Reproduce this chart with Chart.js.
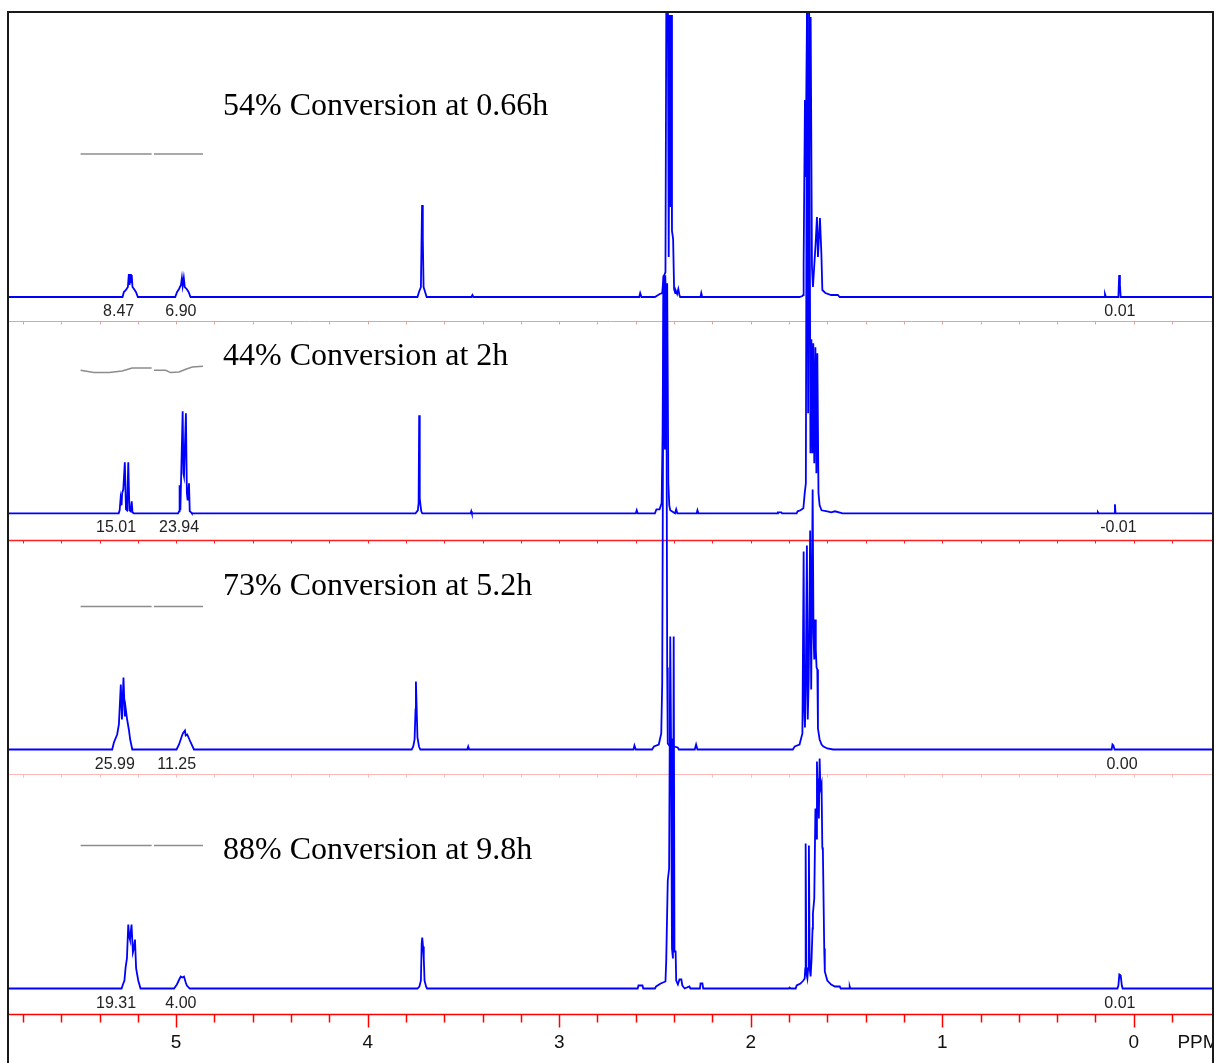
<!DOCTYPE html>
<html>
<head>
<meta charset="utf-8">
<script src="https://cdn.jsdelivr.net/npm/chart.js@4.4.1/dist/chart.umd.min.js"></script>
<style>
  html, body { margin: 0; padding: 0; background: #fff; }
  #wrap { width: 1215px; height: 1063px; position: relative; }
</style>
</head>
<body>
<div id="wrap"><canvas id="nmrChart"></canvas></div>
<script>
// spectra: chemical shift (ppm) and peak height above each baseline
const ppm54 = [6.0, 5.28, 5.273, 5.262, 5.252, 5.247, 5.243, 5.240, 5.236, 5.232, 5.228, 5.220, 5.210, 5.200,
  5.005, 4.995, 4.985, 4.975, 4.970, 4.966, 4.960, 4.955, 4.945, 4.935, 4.925,
  3.740, 3.732, 3.722, 3.716, 3.712, 3.708, 3.700, 3.692,
  3.458, 3.453, 3.448,
  2.582, 2.577, 2.570,
  2.500, 2.475, 2.462, 2.455, 2.445, 2.440, 2.433, 2.428, 2.424, 2.420, 2.416, 2.411, 2.405, 2.400, 2.394, 2.390, 2.384, 2.378, 2.372, 2.368,
  2.262, 2.258, 2.253,
  1.745, 1.730, 1.726, 1.7235, 1.7167, 1.7125, 1.7094, 1.7042, 1.698, 1.6869, 1.680, 1.6749, 1.6608, 1.654, 1.6488, 1.6383, 1.631, 1.6258, 1.610, 1.580, 1.545, 1.535,
  0.155, 0.150, 0.145,
  0.080, 0.076, 0.072, 0.068,
  -0.5];
const int54 = [0, 0, 5, 7, 10, 23, 12, 23, 14, 22, 10, 8, 5, 0,
  0, 5, 8, 12, 19, 11, 19, 10, 8, 5, 0,
  0, 5, 10, 92, 58, 10, 5, 0,
  0, 2, 0,
  0, 4, 0,
  0, 3, 4, 20, 25, 330, 330, 40, 282, 90, 282, 66, 58, 8, 4, 6, 3, 8, 2, 0,
  0, 4, 0,
  0, 1, 2, 33, 197, 120, 200, 330, 60, 280, 30, 10, 54, 80, 40, 79, 44, 7, 4, 2, 2, 0,
  0, 3, 0,
  0, 22, 12, 0,
  0];

const ppm44 = [6.0, 5.300, 5.295, 5.290, 5.285, 5.282, 5.276, 5.268, 5.262, 5.256, 5.250, 5.244, 5.238, 5.232, 5.228, 5.222,
  4.990, 4.985, 4.982, 4.978, 4.966, 4.962, 4.959, 4.949, 4.944, 4.940, 4.933, 4.929, 4.922, 4.918,
  3.750, 3.738, 3.734, 3.731, 3.728, 3.724, 3.720, 3.715,
  3.462, 3.459, 3.456,
  2.600, 2.595, 2.590,
  2.500, 2.492, 2.476, 2.465, 2.460, 2.455, 2.450, 2.446, 2.441, 2.436, 2.430, 2.425, 2.420, 2.395, 2.389, 2.383,
  2.282, 2.278, 2.273,
  1.860, 1.858, 1.840, 1.836, 1.760, 1.755, 1.740, 1.725, 1.718, 1.712, 1.706, 1.700, 1.695, 1.688, 1.683, 1.678, 1.673, 1.668, 1.662, 1.657, 1.652, 1.646, 1.640, 1.630, 1.600, 1.580, 1.560, 1.520,
  0.190, 0.187, 0.184,
  0.101, 0.098, 0.095,
  -0.5];
const int44 = [0, 0, 3, 15, 8, 20, 24, 51, 4, 3, 51, 3, 2, 12, 1, 0,
  0, 2, 28, 3, 102, 40, 37, 100, 20, 13, 30, 2, 1, 0,
  0, 3, 10, 98, 15, 8, 2, 0,
  0, 2, 0,
  0, 3, 0,
  0, 4, 4, 10, 80, 238, 150, 238, 200, 230, 30, 8, 3, 0, 4, 0,
  0, 3, 0,
  0, 1, 1, 0, 0, 2, 3, 5, 20, 30, 520, 100, 520, 60, 174, 60, 170, 50, 166, 40, 160, 20, 8, 3, 2, 1, 2, 0,
  0, 1, 0,
  0, 9, 0,
  0];

const ppm73 = [6.0, 5.334, 5.325, 5.308, 5.299, 5.289, 5.283, 5.275, 5.268, 5.264, 5.256, 5.247, 5.240, 5.229,
  4.998, 4.985, 4.971, 4.965, 4.954, 4.950, 4.942, 4.924, 4.907,
  3.770, 3.762, 3.755, 3.750, 3.748, 3.744, 3.740, 3.732, 3.725,
  3.480, 3.475, 3.470,
  2.612, 2.607, 2.600,
  2.515, 2.505, 2.480, 2.467, 2.462, 2.455, 2.448, 2.441, 2.436, 2.433, 2.425, 2.415, 2.400, 2.381, 2.375,
  2.292, 2.285, 2.278,
  1.780, 1.770, 1.745, 1.730, 1.7235, 1.720, 1.7167, 1.7125, 1.7065, 1.702, 1.697, 1.6895, 1.684, 1.6765, 1.672, 1.668, 1.664, 1.660, 1.656, 1.652, 1.6488, 1.640, 1.630, 1.620, 1.600, 1.570,
  0.115, 0.111, 0.106, 0.100,
  -0.5];
const int73 = [0, 0, 7, 15, 25, 65, 30, 72, 33, 42, 30, 20, 10, 0,
  0, 5, 13, 16, 19, 14, 15, 7, 0,
  0, 3, 10, 40, 68, 40, 12, 3, 0,
  0, 3, 0,
  0, 4, 0,
  0, 3, 5, 16, 66, 460, 300, 460, 82, 6, 4, 5, 3, 2, 0,
  0, 5, 0,
  0, 3, 5, 16, 198, 40, 22, 60, 204, 30, 70, 219, 60, 260, 116, 90, 130, 100, 82, 80, 21, 10, 5, 3, 1, 0,
  0, 5, 4, 0,
  0];

const ppm88 = [6.0, 5.285, 5.278, 5.270, 5.264, 5.257, 5.250, 5.245, 5.241, 5.233, 5.226, 5.221, 5.215, 5.209, 5.198, 5.186,
  5.011, 4.996, 4.984, 4.976, 4.968, 4.959, 4.950, 4.944, 4.929,
  3.740, 3.730, 3.722, 3.718, 3.715, 3.711, 3.707, 3.703, 3.695, 3.690,
  2.590, 2.586, 2.565, 2.561,
  2.500, 2.494, 2.470, 2.445, 2.441, 2.433, 2.426, 2.420, 2.416, 2.411, 2.406, 2.402, 2.398, 2.392, 2.389, 2.380, 2.372, 2.362, 2.357, 2.345, 2.320, 2.315,
  2.265, 2.262, 2.252, 2.248,
  1.800, 1.797, 1.790, 1.765, 1.760, 1.740, 1.725, 1.718, 1.715, 1.713, 1.709, 1.704, 1.700, 1.696, 1.692, 1.687, 1.682, 1.677, 1.675, 1.668, 1.662, 1.657, 1.654, 1.650, 1.647, 1.644, 1.640, 1.636, 1.630, 1.626, 1.623, 1.616, 1.613, 1.600, 1.580, 1.560, 1.535, 1.530,
  1.486, 1.483, 1.480,
  0.085, 0.080, 0.075, 0.068, 0.062, 0.058,
  -0.5];
const int88 = [0, 0, 4, 8, 21, 30, 64, 52, 49, 64, 36, 40, 49, 20, 8, 0,
  0, 4, 9, 12, 11, 12, 6, 3, 0,
  0, 2, 8, 45, 51, 42, 30, 8, 2, 0,
  0, 3, 3, 0,
  0, 2, 5, 7, 28, 108, 120, 352, 250, 40, 30, 352, 37, 37, 8, 4, 9, 9, 3, 0, 2, 0,
  0, 5, 5, 0,
  0, 1, 0, 0, 3, 5, 8, 10, 20, 145, 15, 10, 20, 143, 20, 12, 30, 60, 75, 90, 180, 150, 227, 190, 210, 170, 230, 200, 205, 141, 138, 40, 17, 8, 4, 2, 2, 0,
  0, 2, 0,
  0, 3, 14, 13, 3, 0,
  0];

// integral traces (two regions per spectrum), small drift around their level
const intgPpmA = [5.499, 5.430, 5.350, 5.282, 5.230, 5.128];
const intgPpmB = [5.116, 5.055, 5.029, 4.985, 4.950, 4.916, 4.860];
const intgA54 = [0, 0, 0, 0, 0, 0];
const intgB54 = [0, 0, 0, 0, 0, 0, 0];
const intgA44 = [0, -2.3, -2.3, -0.7, 2.3, 2.3];
const intgB44 = [0, 0, -2.3, -1.7, 1, 3.3, 4];
const intgA73 = [0, 0, 0, 0, 0, 0];
const intgB73 = [0, 0, 0, 0, 0, 0, 0];
const intgA88 = [0, 0, 0, 0, 0, 0];
const intgB88 = [0, 0, 0, 0, 0, 0, 0];

// integral values and where they sit
const labels54 = ['8.47', '6.90', '0.01'];
const labels44 = ['15.01', '23.94', '-0.01'];
const labels73 = ['25.99', '11.25', '0.00'];
const labels88 = ['19.31', '4.00', '0.01'];
const labelPpm54 = [5.300, 4.975, 0.072];
const labelPpm44 = [5.314, 4.985, 0.080];
const labelPpm73 = [5.320, 4.997, 0.061];
const labelPpm88 = [5.314, 4.975, 0.072];

const titles = ['54% Conversion at 0.66h', '44% Conversion at 2h', '73% Conversion at 5.2h', '88% Conversion at 9.8h'];
const majorTicks = [5, 4, 3, 2, 1, 0];

// layout (y in pixel-like units from the bottom axis)
const baselines = [717, 500.7, 264.5, 25.5];
const separators = [693, 474, 240];
const sepColors = ['#e6a0a0', '#ff2020', '#ffb8b8'];
const titleY = [899, 649, 419, 155];
const integralLevel = 143;

const spectra = [[ppm54, int54], [ppm44, int44], [ppm73, int73], [ppm88, int88]];
const integrals = [[intgA54, intgB54], [intgA44, intgB44], [intgA73, intgB73], [intgA88, intgB88]];
const labelSets = [[labels54, labelPpm54], [labels44, labelPpm44], [labels73, labelPpm73], [labels88, labelPpm88]];

function toPoints(xs, ys, base) {
  return xs.map((p, i) => ({ x: p, y: base + ys[i] }));
}

const datasets = [];
spectra.forEach(([p, v], i) => {
  datasets.push({
    data: toPoints(p, v, baselines[i]),
    borderColor: '#0000ff',
    borderWidth: 1.8,
    pointRadius: 0,
    tension: 0,
    fill: false
  });
  const [a, b] = integrals[i];
  [[intgPpmA, a], [intgPpmB, b]].forEach(([p2, v2]) => {
    datasets.push({
      data: toPoints(p2, v2, baselines[i] + integralLevel),
      borderColor: '#8c8c8c',
      borderWidth: 1.5,
      pointRadius: 0,
      tension: 0,
      fill: false
    });
  });
});

const decor = {
  id: 'decor',
  beforeDatasetsDraw(chart) {
    const { ctx, chartArea: a, scales: { x, y } } = chart;
    ctx.save();
    separators.forEach((lv, i) => {
      const py = Math.round(y.getPixelForValue(lv)) + 0.5;
      ctx.strokeStyle = sepColors[i];
      ctx.lineWidth = i === 1 ? 1.5 : 1;
      ctx.beginPath();
      ctx.moveTo(a.left, py);
      ctx.lineTo(a.right, py);
      ctx.stroke();
      ctx.lineWidth = 1;
      for (let k = -1; k <= 29; k++) {
        const px = Math.round(x.getPixelForValue(k * 0.2)) + 0.5;
        ctx.beginPath();
        ctx.moveTo(px, py);
        ctx.lineTo(px, py + 3);
        ctx.stroke();
      }
    });
    ctx.restore();
  },
  afterDatasetsDraw(chart) {
    const { ctx, chartArea: a, scales: { x, y } } = chart;
    ctx.save();

    // ppm axis
    const ay = Math.round(y.getPixelForValue(0)) + 0.5;
    ctx.strokeStyle = '#ff0000';
    ctx.lineWidth = 1.5;
    ctx.beginPath();
    ctx.moveTo(a.left, ay);
    ctx.lineTo(a.right, ay);
    ctx.stroke();
    for (let k = -1; k <= 29; k++) {
      const px = Math.round(x.getPixelForValue(k * 0.2)) + 0.5;
      ctx.beginPath();
      ctx.moveTo(px, ay);
      ctx.lineTo(px, ay + (k % 5 === 0 ? 13 : 8));
      ctx.stroke();
    }
    ctx.fillStyle = '#111';
    ctx.font = '19px "Liberation Sans", Arial, sans-serif';
    ctx.textAlign = 'center';
    ctx.textBaseline = 'alphabetic';
    majorTicks.forEach(t => ctx.fillText(String(t), x.getPixelForValue(t), ay + 33));
    ctx.save();
    ctx.beginPath();
    ctx.rect(0, 0, a.right, chart.height);
    ctx.clip();
    ctx.textAlign = 'left';
    ctx.fillText('PPM', x.getPixelForValue(-0.228), ay + 33);
    ctx.restore();

    // titles
    ctx.font = '32px "Liberation Serif", "Times New Roman", serif';
    ctx.fillStyle = '#000';
    ctx.textAlign = 'left';
    titles.forEach((t, i) => ctx.fillText(t, x.getPixelForValue(4.755), y.getPixelForValue(titleY[i])));

    // integral values
    ctx.font = '16px "Liberation Sans", Arial, sans-serif';
    ctx.fillStyle = '#222';
    ctx.textAlign = 'center';
    labelSets.forEach(([txt, pos], i) => {
      const by = y.getPixelForValue(baselines[i]) + 19;
      txt.forEach((s, j) => ctx.fillText(s, x.getPixelForValue(pos[j]), by));
    });

    // frame
    ctx.strokeStyle = '#1a1a1a';
    ctx.lineWidth = 2;
    ctx.beginPath();
    ctx.moveTo(a.left, chart.height);
    ctx.lineTo(a.left, a.top);
    ctx.lineTo(a.right, a.top);
    ctx.lineTo(a.right, chart.height);
    ctx.stroke();
    ctx.restore();
  }
};

new Chart(document.getElementById('nmrChart').getContext('2d'), {
  type: 'line',
  data: { datasets: datasets },
  options: {
    responsive: true,
    maintainAspectRatio: false,
    animation: false,
    layout: {
      padding: { left: 8, right: 2, top: 12, bottom: 49 }
    },
    scales: {
      x: { type: 'linear', reverse: true, min: -0.414, max: 5.878, display: false },
      y: { type: 'linear', min: 0, max: 1002, display: false }
    },
    plugins: {
      legend: { display: false },
      tooltip: { enabled: false }
    }
  },
  plugins: [decor]
});
</script>
</body>
</html>
